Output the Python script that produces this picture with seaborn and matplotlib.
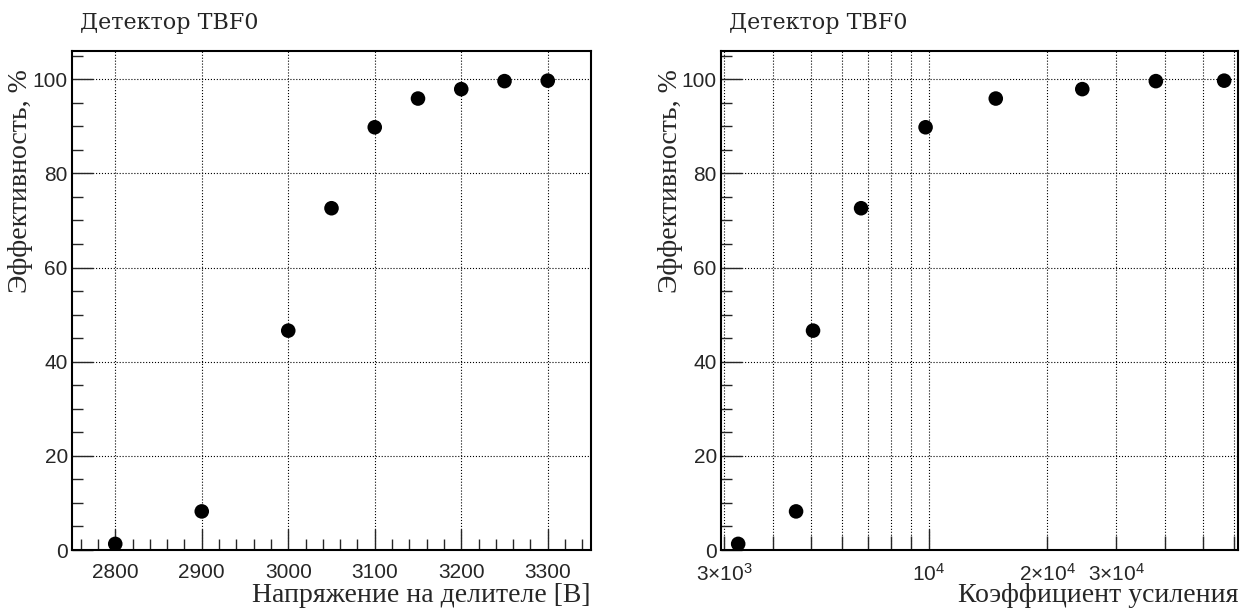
import matplotlib
matplotlib.use("Agg")
import matplotlib.pyplot as plt
import matplotlib.ticker as mticker
import numpy as np
import pandas as pd
import seaborn as sns

sns.set_style("ticks")
plt.rcParams['font.family'] = ['Liberation Sans', 'DejaVu Sans']
plt.rcParams['mathtext.fontset'] = 'custom'
plt.rcParams['mathtext.rm'] = 'Liberation Sans'
plt.rcParams['mathtext.it'] = 'Liberation Sans'

# Данные
voltage = [2800, 2900, 3000, 3050, 3100, 3150, 3200, 3250, 3300]
gain = [3260, 4580, 5060, 6710, 9800, 14800, 24600, 37900, 56600]
eff = [1.3, 8.2, 46.6, 72.6, 89.8, 95.9, 97.9, 99.6, 99.7]

df = pd.DataFrame({'voltage': voltage, 'gain': gain, 'eff': eff})

title = 'Детектор TBF0'
ylab = 'Эффективность, %'
serif = ['Liberation Serif', 'DejaVu Serif']

fig = plt.figure(figsize=(12.51, 6.12), dpi=100)
ax1 = fig.add_axes([72 / 1251, 62 / 612, 519 / 1251, 499 / 612])
ax2 = fig.add_axes([721 / 1251, 62 / 612, 517 / 1251, 499 / 612])

for ax, xcol in [(ax1, 'voltage'), (ax2, 'gain')]:
    sns.scatterplot(data=df, x=xcol, y='eff', ax=ax, color='black', s=110,
                    edgecolor='none', zorder=3)
    ax.set_ylim(0, 106)
    ax.yaxis.set_major_locator(mticker.MultipleLocator(20))
    ax.yaxis.set_minor_locator(mticker.MultipleLocator(5))
    ax.tick_params(which='both', direction='in', top=False, right=False,
                   labelsize=15, width=1, pad=3)
    ax.tick_params(axis='x', which='both', pad=9)
    ax.tick_params(which='major', length=15)
    ax.tick_params(which='minor', length=8)
    for sp in ax.spines.values():
        sp.set_linewidth(1.5)
        sp.set_color('black')
    ax.grid(True, which='major', axis='both', color='black', linestyle=':',
            linewidth=0.8)
    ax.set_xlabel('')
    ax.set_ylabel('')
    ax.text(0.015, 1.044, title, transform=ax.transAxes, family='DejaVu Serif',
            fontsize=16, ha='left', va='baseline')
    fig.text(ax.get_position().x0 - 51 / 1251, ax.get_position().y1 - 18 / 612,
             ylab, family=serif, fontsize=20, rotation=90, ha='center', va='top')

# левая панель
ax1.set_xlim(2750, 3350)
ax1.xaxis.set_major_locator(mticker.MultipleLocator(100))
ax1.xaxis.set_minor_locator(mticker.MultipleLocator(20))
ax1.text(1.0, -0.104, 'Напряжение на делителе [В]', transform=ax1.transAxes,
         family=serif, fontsize=20, ha='right', va='baseline')

# правая панель
ax2.set_xscale('log')
ax2.set_xlim(2947, 61400)
ax2.xaxis.set_major_locator(mticker.FixedLocator([1e4]))
ax2.xaxis.set_major_formatter(mticker.FixedFormatter(['$10^{4}$']))
minor = [3000, 4000, 5000, 6000, 7000, 8000, 9000, 20000, 30000, 40000, 50000, 60000]
minor_lab = {3000: r'$3{\times}10^{3}$', 20000: r'$2{\times}10^{4}$',
             30000: r'$3{\times}10^{4}$'}
ax2.xaxis.set_minor_locator(mticker.FixedLocator(minor))
ax2.xaxis.set_minor_formatter(mticker.FuncFormatter(
    lambda v, p: minor_lab.get(int(round(v)), '')))
ax2.tick_params(axis='x', which='minor', labelsize=15, length=10, pad=9)
ax2.grid(True, which='minor', axis='x', color='black', linestyle=':',
         linewidth=0.8)
ax2.text(1.0, -0.104, 'Коэффициент усиления', transform=ax2.transAxes,
         family=serif, fontsize=20, ha='right', va='baseline')

fig.savefig('out.png', dpi=100)
